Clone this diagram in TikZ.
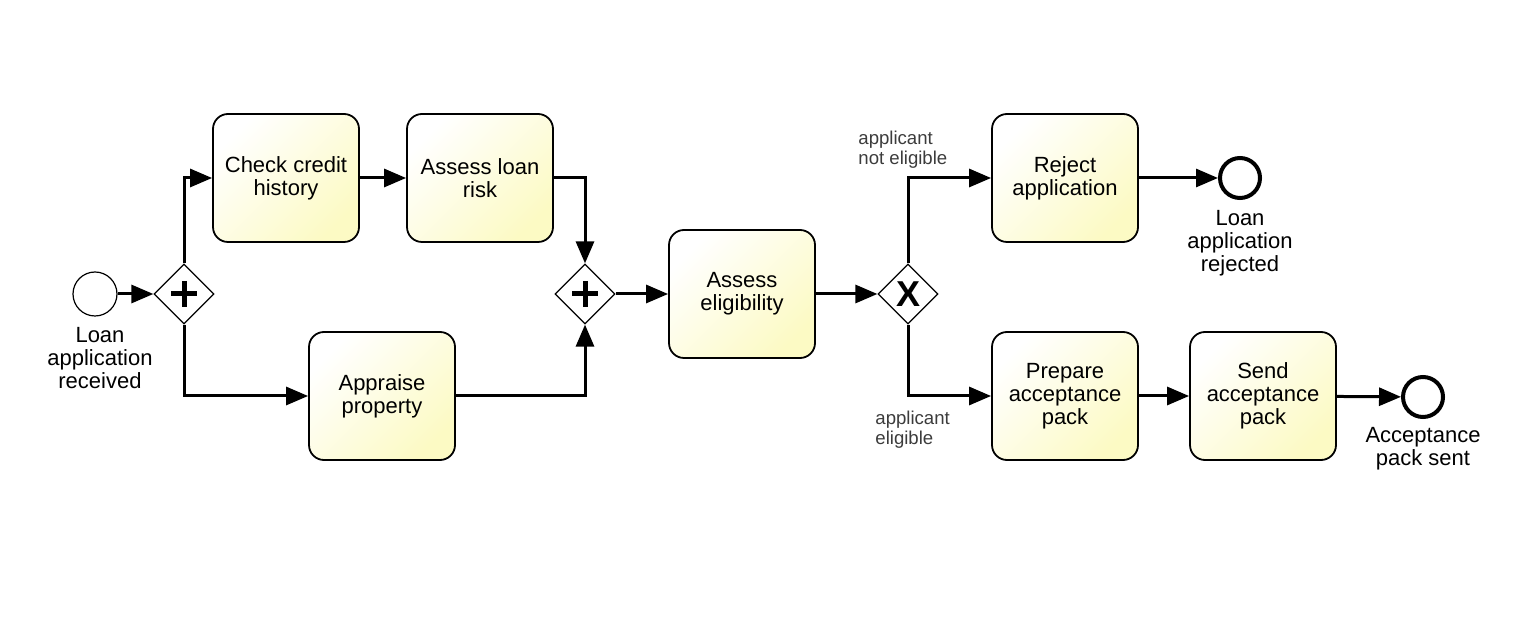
\documentclass[tikz,border=0pt]{standalone}
\usepackage{fontspec}
\setmainfont{Liberation Sans}
\usetikzlibrary{positioning,shapes.geometric,arrows.meta}
\definecolor{taskfill}{RGB}{252,250,196}
\definecolor{flowgray}{RGB}{60,60,60}
\begin{document}
\begin{tikzpicture}[
  x=0.5pt,y=-0.5pt,
  task/.style={rectangle,rounded corners=7.5pt,draw,line width=0.9pt,
    minimum width=73pt,minimum height=64pt,align=center,
    top color=white,bottom color=taskfill,shading angle=45,
    font=\fontsize{11}{11.5}\selectfont},
  gateway/.style={diamond,draw,line width=0.6pt,fill=white,minimum size=30pt,inner sep=0pt},
  startevent/.style={circle,draw,line width=0.6pt,minimum size=22pt,inner sep=0pt},
  endevent/.style={circle,draw,line width=2pt,minimum size=20pt,inner sep=0pt},
  evlabel/.style={align=center,inner sep=0pt,font=\fontsize{11}{11.5}\selectfont},
  condlabel/.style={align=left,inner sep=0pt,text=flowgray,font=\fontsize{9.3}{10}\selectfont},
  flow/.style={draw,line width=1.5pt,-{Triangle[length=11pt,width=9pt]}},
  plusmark/.style={line width=2.5pt}
]
\useasboundingbox (0,0) rectangle (1536,619);

\node[startevent] (start) at (95,294) {};
\node[gateway] (gwsplit) at (184,294) {};
\node[task] (check) at (286,178) {Check credit\\history};
\node[task] (risk) at (480,178) {Assess loan\\risk};
\node[task] (appraise) at (382,396) {Appraise\\property};
\node[gateway] (gwjoin) at (585,294) {};
\node[task] (eligible) at (742,294) {Assess\\eligibility};
\node[gateway] (gwdecide) at (908,294) {};
\node[task] (reject) at (1065,178) {Reject\\application};
\node[endevent] (rejected) at (1240,178) {};
\node[task] (prepare) at (1065,396) {Prepare\\acceptance\\pack};
\node[task] (send) at (1263,396) {Send\\acceptance\\pack};
\node[endevent] (sent) at (1423,397) {};

\draw[plusmark] (gwsplit.center) ++(-13,0) -- ++(26,0);
\draw[plusmark] (gwsplit.center) ++(0,-13) -- ++(0,26);
\draw[plusmark] (gwjoin.center) ++(-13,0) -- ++(26,0);
\draw[plusmark] (gwjoin.center) ++(0,-13) -- ++(0,26);
\node[font=\fontsize{18}{18}\selectfont\bfseries,inner sep=0pt] (xmark) at (gwdecide) {X};

\node[evlabel,below=5pt of start,xshift=2.5pt] (startlbl) {Loan\\application\\received};
\node[evlabel,below=5pt of rejected] (rejectedlbl) {Loan\\application\\rejected};
\node[evlabel,below=4pt of sent] (sentlbl) {Acceptance\\pack sent};
\node[condlabel,anchor=north west] (notelig) at (858,131) {applicant\\not eligible};
\node[condlabel,anchor=north west] (elig) at (875,411) {applicant\\eligible};

\draw[flow] (start) -- (gwsplit);
\draw[flow] (gwsplit.north) |- (check.west);
\draw[flow] (gwsplit.south) |- (appraise.west);
\draw[flow] (check) -- (risk);
\draw[flow] (risk.east) -| (gwjoin.north);
\draw[flow] (appraise.east) -| (gwjoin.south);
\draw[flow] (gwjoin) -- (eligible);
\draw[flow] (eligible) -- (gwdecide);
\draw[flow] (gwdecide.north) |- (reject.west);
\draw[flow] (gwdecide.south) |- (prepare.west);
\draw[flow] (reject) -- (rejected);
\draw[flow] (prepare) -- (send);
\draw[flow] (send) -- (sent);
\end{tikzpicture}
\end{document}
